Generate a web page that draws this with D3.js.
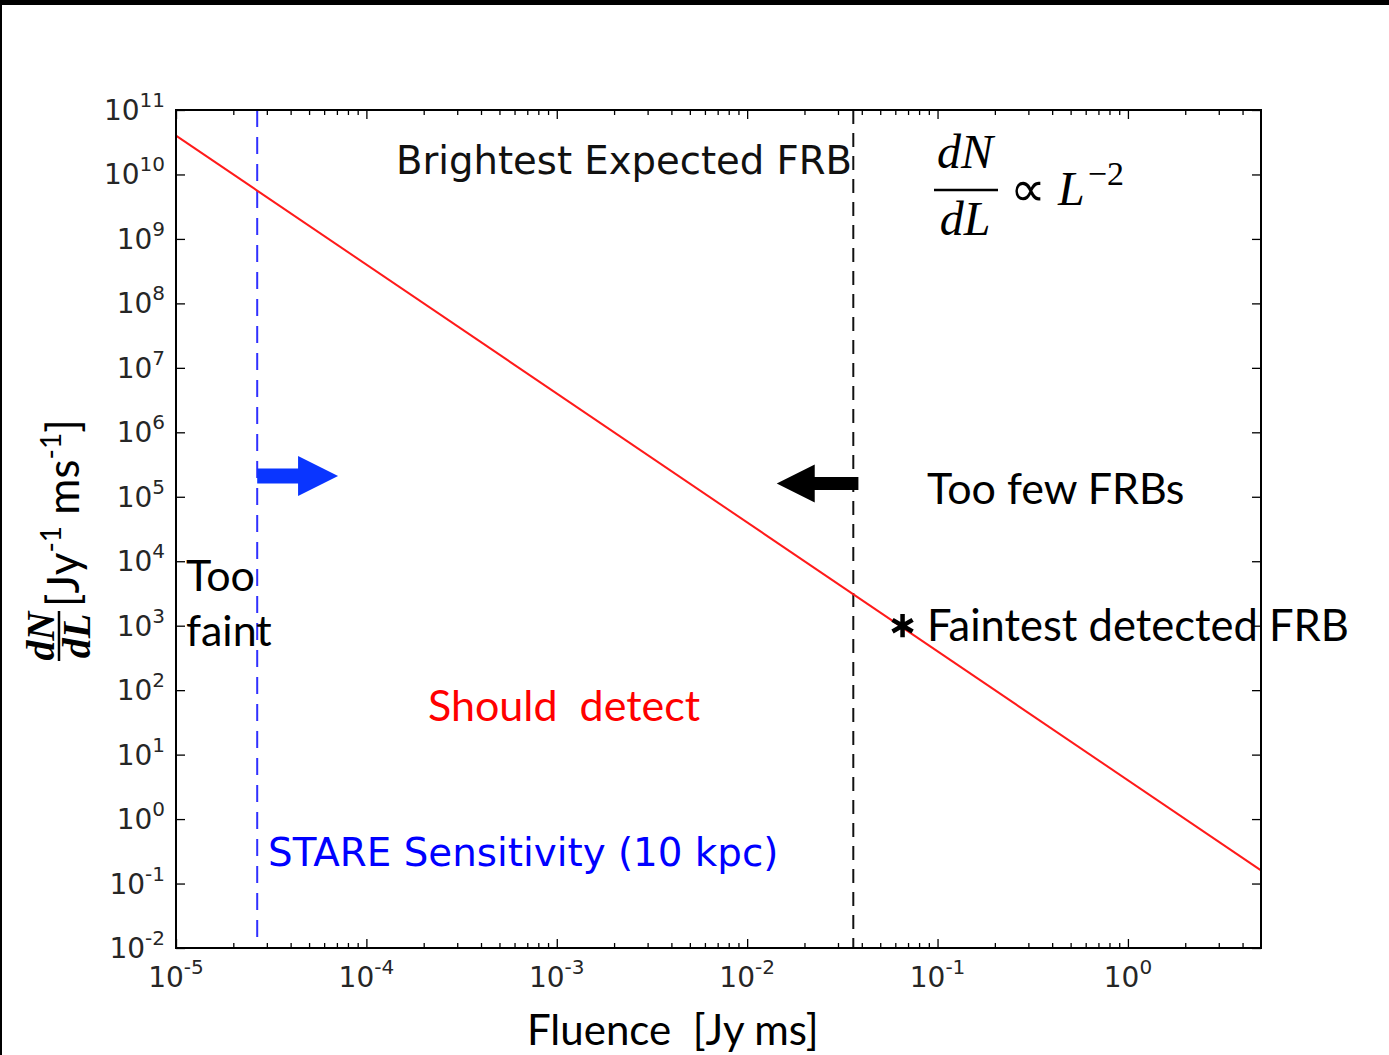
<!DOCTYPE html>
<html>
<head>
<meta charset="utf-8">
<script src="https://cdn.jsdelivr.net/npm/d3@7"></script>
<style>
  body { margin: 0; background: #fff; }
  text { white-space: pre; }
</style>
</head>
<body>
<svg id="chart" width="1389" height="1055"></svg>
<script>
// values
const lineFluence = [1e-5, 5];          // Jy ms
const lineRate = [4e10, 0.16];          // dN/dL, slope -2
const stareLimit = [2.67e-5];           // blue dashed line
const brightestFRB = [0.0361];          // black dashed line
const faintestFluence = [0.0655];
const faintestRate = [1000];
const blueArrow = [2.67e-5, 7.1e-5];    // tail, tip (fluence)
const blueArrowRate = 2.1e5;
const blackArrow = [0.0384, 0.0143];    // tail, tip
const blackArrowRate = 1.6e5;
const xExp = [-5, -4, -3, -2, -1, 0];
const yExp = [-2, -1, 0, 1, 2, 3, 4, 5, 6, 7, 8, 9, 10, 11];

const svg = d3.select('#chart');
const width = +svg.attr('width');
const height = +svg.attr('height');

// slide border bits
svg.append('rect').attr('x', 0).attr('y', 0).attr('width', width).attr('height', 5).attr('fill', '#000');
svg.append('rect').attr('x', 0).attr('y', 0).attr('width', 2).attr('height', height).attr('fill', '#000');

const plot = { left: 176, right: 1261, top: 110, bottom: 948 };

const xScale = d3.scaleLog().domain([1e-5, 5]).range([plot.left, plot.right]);
const yScale = d3.scaleLog().domain([1e-2, 1e11]).range([plot.bottom, plot.top]);

const xMajor = xExp.map(e => Math.pow(10, e));
const yMajor = yExp.map(e => Math.pow(10, e));
const xMinor = [];
xExp.forEach(e => d3.range(2, 10).forEach(k => {
  const v = k * Math.pow(10, e);
  if (v < 5) xMinor.push(v);
}));

// ticks, all pointing inward
const addAxis = (axis, tx, ty, vals, size) => {
  const g = svg.append('g')
      .attr('transform', 'translate(' + tx + ',' + ty + ')')
      .call(axis.tickValues(vals).tickSize(-size).tickFormat(''));
  g.select('.domain').remove();
  g.selectAll('line').attr('stroke', '#000').attr('stroke-width', 1.3);
};
addAxis(d3.axisBottom(xScale), 0, plot.bottom, xMajor, 9);
addAxis(d3.axisBottom(xScale), 0, plot.bottom, xMinor, 5);
addAxis(d3.axisTop(xScale), 0, plot.top, xMajor, 9);
addAxis(d3.axisTop(xScale), 0, plot.top, xMinor, 5);
addAxis(d3.axisLeft(yScale), plot.left, 0, yMajor, 9);
addAxis(d3.axisRight(yScale), plot.right, 0, yMajor, 9);

// tick labels with superscripts
const xl = svg.append('g').selectAll('text')
    .data(xExp)
    .enter().append('text')
    .attr('x', d => xScale(Math.pow(10, d)))
    .attr('y', 987)
    .attr('text-anchor', 'middle')
    .style('font-family', 'DejaVu Sans')
    .style('font-size', '28px')
    .attr('fill', '#262626');
xl.append('tspan').text('10');
xl.append('tspan').attr('dy', -13).style('font-size', '20px').text(d => d);

const yl = svg.append('g').selectAll('text')
    .data(yExp)
    .enter().append('text')
    .attr('x', 165)
    .attr('y', d => yScale(Math.pow(10, d)) + 10)
    .attr('text-anchor', 'end')
    .style('font-family', 'DejaVu Sans')
    .style('font-size', '28px')
    .attr('fill', '#262626');
yl.append('tspan').text('10');
yl.append('tspan').attr('dy', -13).style('font-size', '20px').text(d => d);

// dashed limits
svg.selectAll('.stare')
    .data(stareLimit)
    .enter().append('line')
    .attr('x1', d => xScale(d)).attr('x2', d => xScale(d))
    .attr('y1', plot.top).attr('y2', plot.bottom)
    .attr('stroke', '#3030ff').attr('stroke-width', 2)
    .attr('stroke-dasharray', '17,10');

svg.selectAll('.bright')
    .data(brightestFRB)
    .enter().append('line')
    .attr('x1', d => xScale(d)).attr('x2', d => xScale(d))
    .attr('y1', plot.top).attr('y2', plot.bottom)
    .attr('stroke', '#111').attr('stroke-width', 2)
    .attr('stroke-dasharray', '14,9');

// power law
const line = d3.line()
    .x(d => xScale(d[0]))
    .y(d => yScale(d[1]));
svg.append('path')
    .datum(d3.zip(lineFluence, lineRate))
    .attr('d', line)
    .attr('fill', 'none')
    .attr('stroke', '#ff1a1a')
    .attr('stroke-width', 2);

// frame
svg.append('rect')
    .attr('x', plot.left).attr('y', plot.top)
    .attr('width', plot.right - plot.left).attr('height', plot.bottom - plot.top)
    .attr('fill', 'none').attr('stroke', '#000').attr('stroke-width', 2);

// arrows
const arrowPath = (x0, x1, y, shaft, head, headLen) => {
  const dir = x1 > x0 ? 1 : -1;
  const xb = x1 - dir * headLen;
  return 'M' + x0 + ',' + (y - shaft) + 'L' + xb + ',' + (y - shaft) +
    'L' + xb + ',' + (y - head) + 'L' + x1 + ',' + y + 'L' + xb + ',' + (y + head) +
    'L' + xb + ',' + (y + shaft) + 'L' + x0 + ',' + (y + shaft) + 'Z';
};
svg.append('path')
    .attr('d', arrowPath(xScale(blueArrow[0]), xScale(blueArrow[1]), yScale(blueArrowRate), 7.5, 20, 40))
    .attr('fill', '#0a35ff');
svg.append('path')
    .attr('d', arrowPath(xScale(blackArrow[0]), xScale(blackArrow[1]), yScale(blackArrowRate), 6.5, 19, 38))
    .attr('fill', '#000');

// faintest detected FRB
svg.selectAll('.star')
    .data(d3.zip(faintestFluence, faintestRate))
    .enter().append('path')
    .attr('transform', d => 'translate(' + xScale(d[0]) + ',' + yScale(d[1]) + ')')
    .attr('d', d3.symbol(d3.symbolAsterisk, 380))
    .attr('fill', 'none')
    .attr('stroke', '#000')
    .attr('stroke-width', 4.5);

// annotations
const label = (x, y, txt, font, size, color) =>
  svg.append('text')
      .attr('x', x).attr('y', y)
      .style('font-family', font)
      .style('font-size', size + 'px')
      .attr('fill', color || '#000')
      .text(txt);

label(396, 174, 'Brightest Expected FRB', 'DejaVu Sans', 38.6, '#111');
label(268, 866, 'STARE Sensitivity (10 kpc)', 'DejaVu Sans', 38.8, '#0000ff');
label(927, 504, 'Too few FRBs', 'Lato', 43);
label(927, 641, 'Faintest detected FRB', 'Lato', 43.5);
label(186, 591, 'Too', 'Lato', 43);
label(186, 646, 'faint', 'Lato', 43);
label(428, 721, 'Should  detect', 'Lato', 43, '#ff0000');
label(527, 1045, 'Fluence  [Jy ms]', 'Lato', 42);

// dN/dL proportional to L^-2
const eq = svg.append('g').style('font-family', 'Liberation Serif').style('font-style', 'italic');
eq.append('text').attr('x', 965).attr('y', 168).attr('text-anchor', 'middle')
    .style('font-size', '48px').text('dN');
eq.append('line').attr('x1', 934).attr('x2', 998).attr('y1', 190).attr('y2', 190)
    .attr('stroke', '#000').attr('stroke-width', 2.5);
eq.append('text').attr('x', 965).attr('y', 235).attr('text-anchor', 'middle')
    .style('font-size', '48px').text('dL');
eq.append('text').attr('x', 1010).attr('y', 206).style('font-style', 'normal')
    .style('font-family', 'DejaVu Sans').style('font-size', '50px').text('\u221d');
const lp = eq.append('text').attr('x', 1058).attr('y', 205).style('font-size', '48px');
lp.append('tspan').text('L');
lp.append('tspan').attr('dx', 3).attr('dy', -20).style('font-style', 'normal').style('font-size', '34px').text('\u22122');

// y label
const yLab = svg.append('g').attr('transform', 'translate(59,636) rotate(-90)');
yLab.append('line').attr('x1', -25).attr('x2', 25).attr('y1', 0).attr('y2', 0)
    .attr('stroke', '#000').attr('stroke-width', 2.5);
yLab.append('text').attr('x', 0).attr('y', -5).attr('text-anchor', 'middle')
    .style('font-family', 'Liberation Serif').style('font-style', 'italic').style('font-weight', 'bold')
    .style('font-size', '40px').text('dN');
yLab.append('text').attr('x', 0).attr('y', 31).attr('text-anchor', 'middle')
    .style('font-family', 'Liberation Serif').style('font-style', 'italic').style('font-weight', 'bold')
    .style('font-size', '40px').text('dL');
const unit = svg.append('text')
    .attr('transform', 'translate(79,607) rotate(-90)')
    .style('font-family', 'Lato').style('font-size', '44px');
unit.append('tspan').text('[Jy');
unit.append('tspan').attr('dy', -18).style('font-size', '28px').text('-1');
unit.append('tspan').attr('dy', 18).text(' ms');
unit.append('tspan').attr('dy', -18).style('font-size', '28px').text('-1');
unit.append('tspan').attr('dy', 18).text(']');
</script>
</body>
</html>
